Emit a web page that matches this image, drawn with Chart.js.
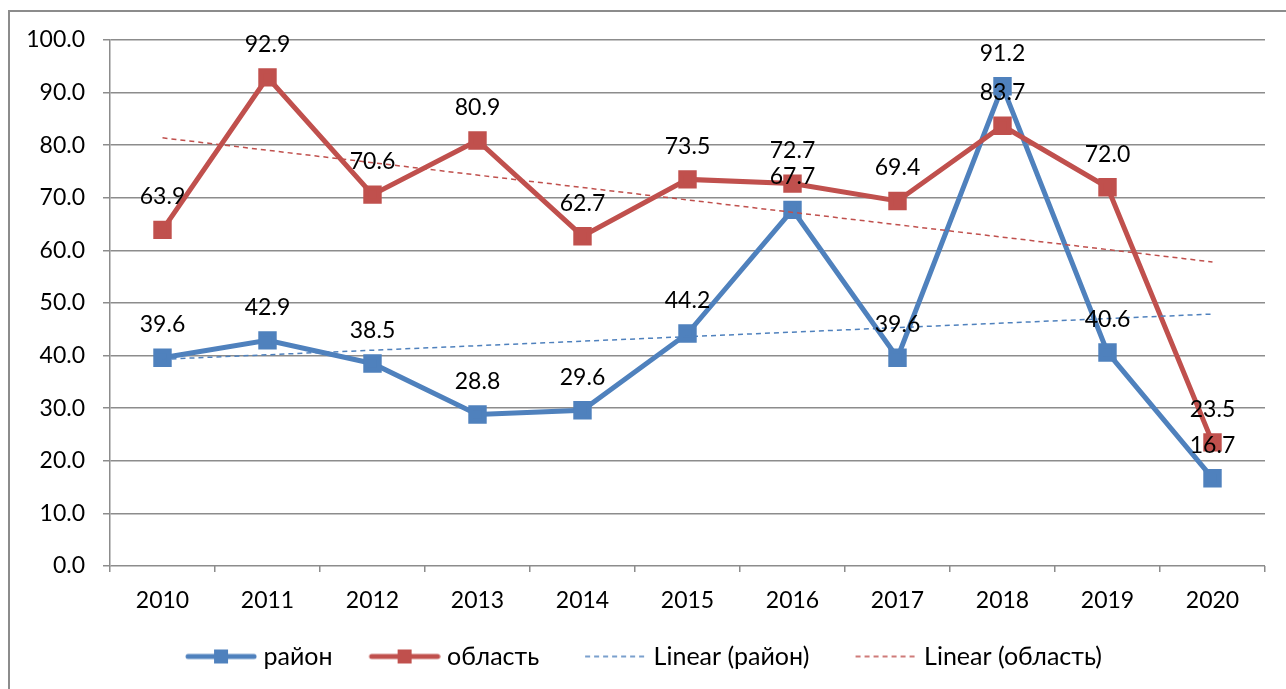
<!DOCTYPE html>
<html>
<head>
<meta charset="utf-8">
<script src="https://cdn.jsdelivr.net/npm/chart.js@4/dist/chart.umd.min.js"></script>
<style>
  html, body { margin: 0; padding: 0; background: #fff; overflow: hidden; }
  #wrap { position: relative; width: 1286px; height: 689px; }
  #frame { position: absolute; left: 8px; top: 10px; width: 1300px; height: 700px; border: 2px solid #8c8c8c; box-sizing: border-box; }
  canvas { position: absolute; left: 0; top: 0; }
</style>
</head>
<body>
<div id="wrap">
  <div id="frame"></div>
  <canvas id="chart" width="1286" height="689"></canvas>
</div>
<script>
// данные
const years = ['2010','2011','2012','2013','2014','2015','2016','2017','2018','2019','2020'];
const raion = [39.6, 42.9, 38.5, 28.8, 29.6, 44.2, 67.7, 39.6, 91.2, 40.6, 16.7];
const oblast = [63.9, 92.9, 70.6, 80.9, 62.7, 73.5, 72.7, 69.4, 83.7, 72.0, 23.5];
// линии тренда (концы)
const trendRaion = [39.3, null, null, null, null, null, null, null, null, null, 47.9];
const trendOblast = [81.4, null, null, null, null, null, null, null, null, null, 57.8];
const yTicks = [0, 10, 20, 30, 40, 50, 60, 70, 80, 90, 100];

const BLUE = '#4F81BD';
const RED = '#C0504D';
const FONT = 'Lato, "Liberation Sans", sans-serif';

// значок для легенды: слева пустое место, справа линия
function swatch(color, dashed) {
  const c = document.createElement('canvas');
  c.width = 100; c.height = 16;
  const ctx = c.getContext('2d');
  ctx.strokeStyle = color;
  if (dashed) {
    ctx.lineWidth = 1.5;
    ctx.setLineDash([5, 4]);
    ctx.beginPath(); ctx.moveTo(38, 8); ctx.lineTo(98, 8); ctx.stroke();
  } else {
    ctx.lineWidth = 5;
    ctx.lineCap = 'round';
    ctx.beginPath(); ctx.moveTo(31, 8); ctx.lineTo(97, 8); ctx.stroke();
    ctx.fillStyle = color;
    ctx.fillRect(57, 1, 14, 14);
  }
  return c;
}

const valueLabels = {
  id: 'valueLabels',
  afterDatasetsDraw(chart) {
    const ctx = chart.ctx;
    ctx.save();
    ctx.font = '23px ' + FONT;
    ctx.fillStyle = '#000';
    ctx.textAlign = 'center';
    ctx.textBaseline = 'middle';
    [0, 1].forEach(di => {
      const meta = chart.getDatasetMeta(di);
      meta.data.forEach((pt, i) => {
        const v = chart.data.datasets[di].data[i];
        ctx.fillText(v.toFixed(1), pt.x, pt.y - 33);
      });
    });
    ctx.restore();
  }
};

new Chart(document.getElementById('chart'), {
  type: 'line',
  data: {
    labels: years,
    datasets: [
      { label: 'район', data: raion, borderColor: BLUE, backgroundColor: BLUE, borderWidth: 5,
        pointStyle: 'rect', pointRadius: 9.5, pointHoverRadius: 9.5, order: 1, tension: 0, pointStyleImg: swatch(BLUE, false) },
      { label: 'область', data: oblast, borderColor: RED, backgroundColor: RED, borderWidth: 5,
        pointStyle: 'rect', pointRadius: 9.5, pointHoverRadius: 9.5, order: 0, tension: 0, pointStyleImg: swatch(RED, false) },
      { label: 'Linear (район)', data: trendRaion, borderColor: BLUE, borderWidth: 1.5, borderDash: [5, 4],
        pointRadius: 0, spanGaps: true, order: -1, pointStyleImg: swatch(BLUE, true) },
      { label: 'Linear (область)', data: trendOblast, borderColor: RED, borderWidth: 1.5, borderDash: [5, 4],
        pointRadius: 0, spanGaps: true, order: -1, pointStyleImg: swatch(RED, true) }
    ]
  },
  options: {
    responsive: false,
    animation: false,
    layout: { padding: { left: 0, top: 40, right: 21, bottom: 10 } },
    plugins: {
      tooltip: { enabled: false },
      legend: {
        position: 'bottom',
        labels: {
          usePointStyle: true,
          pointStyleWidth: 88,
          padding: 14,
          color: '#000',
          font: { family: FONT, size: 25 },
          generateLabels(chart) {
            return chart.data.datasets.map((ds, i) => ({
              text: ds.label, pointStyle: ds.pointStyleImg, datasetIndex: i,
              fillStyle: ds.borderColor, strokeStyle: ds.borderColor, lineWidth: 0, hidden: false, fontColor: '#000'
            }));
          }
        }
      }
    },
    scales: {
      x: {
        offset: true,
        grid: { display: true, drawOnChartArea: false, offset: true, color: '#8c8c8c', lineWidth: 1.5, tickLength: 6 },
        border: { display: false },
        ticks: { color: '#000', font: { family: FONT, size: 23 }, padding: 15, maxRotation: 0 },
        afterFit(scale) { scale.height = 64; }
      },
      y: {
        min: 0, max: 100,
        afterBuildTicks(scale) { scale.ticks = yTicks.map(v => ({ value: v })); },
        grid: { color: '#8c8c8c', lineWidth: 1.5, tickLength: 7 },
        border: { display: true, color: '#8c8c8c', width: 1.5 },
        ticks: { color: '#000', font: { family: FONT, size: 23 }, padding: 18, callback: v => v.toFixed(1) },
        afterFit(scale) { scale.width = 110; }
      }
    }
  },
  plugins: [valueLabels]
});
</script>
</body>
</html>
